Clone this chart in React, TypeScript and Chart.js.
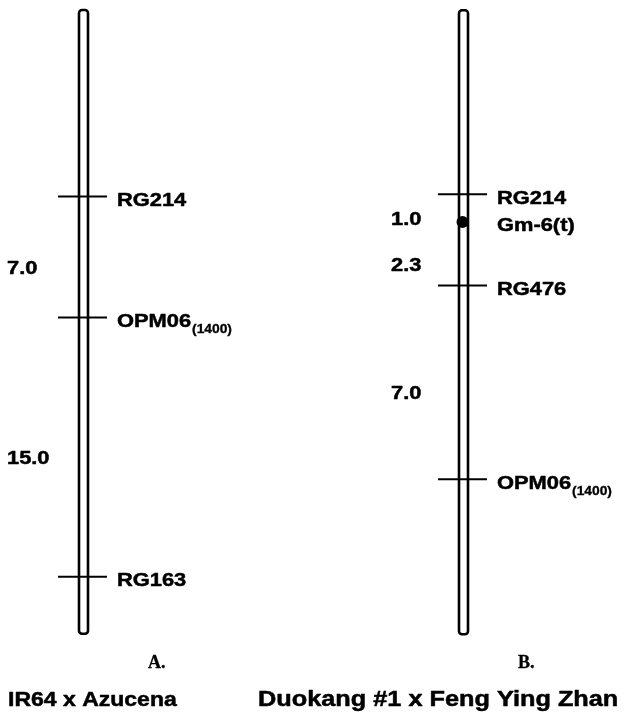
import React, { useEffect, useRef } from "react";
import { Chart, registerables } from "chart.js";

Chart.register(...registerables);

// ---- data (map positions in cM, relative to RG214) ----
const mapATitle = "A.";
const mapACross = "IR64 x Azucena";
const mapAMarkers = ["RG214", "OPM06", "RG163"];
const mapASubs = ["", "(1400)", ""];
const mapAPositions = [0, 7.0, 22.0];
const mapAIntervals = ["7.0", "15.0"];
const mapAEnds = [-10.8, 25.3];

const mapBTitle = "B.";
const mapBCross = "Duokang #1 x Feng Ying Zhan";
const mapBMarkers = ["RG214", "RG476", "OPM06"];
const mapBSubs = ["", "", "(1400)"];
const mapBPositions = [0, 3.3, 10.3];
const mapBGene = ["Gm-6(t)"];
const mapBGenePositions = [1.0];
const mapBIntervals = ["1.0", "2.3", "7.0"];
const mapBEnds = [-6.65, 15.9];

// ---- layout constants ----
const W = 630;
const H = 717;
const XA = 83.5;
const XB = 463.5;
const TICK_HALF = 24.5;
const BAR_W = 9;
const SANS = '"Liberation Sans", Arial, sans-serif';
const SERIF = '"Liberation Serif", "Times New Roman", serif';
const STRETCH = 1.15;

function drawText(
  ctx: CanvasRenderingContext2D,
  text: string,
  x: number,
  y: number,
  font: string,
  stretch = STRETCH,
  thicken = 0.5
): number {
  ctx.save();
  ctx.font = font;
  ctx.textAlign = "left";
  ctx.textBaseline = "alphabetic";
  ctx.translate(x, y);
  ctx.scale(stretch, 1);
  ctx.fillStyle = "#000";
  ctx.fillText(text, 0, 0);
  if (thicken > 0) {
    ctx.strokeStyle = "#000";
    ctx.lineWidth = thicken;
    ctx.lineJoin = "round";
    ctx.strokeText(text, 0, 0);
  }
  const w = ctx.measureText(text).width * stretch;
  ctx.restore();
  return w;
}

const mapPlugin = {
  id: "linkageMap",
  beforeDatasetsDraw(chart: any) {
    const ctx: CanvasRenderingContext2D = chart.ctx;
    const xs = chart.scales.x;
    const maps = [
      { x: XA, ends: mapAEnds, scale: chart.scales.yA },
      { x: XB, ends: mapBEnds, scale: chart.scales.yB },
    ];
    ctx.save();
    for (const m of maps) {
      const cx = xs.getPixelForValue(m.x);
      const top = m.scale.getPixelForValue(m.ends[0]);
      const bot = m.scale.getPixelForValue(m.ends[1]);
      ctx.beginPath();
      (ctx as any).roundRect(cx - BAR_W / 2, top, BAR_W, bot - top, 3);
      ctx.fillStyle = "#fff";
      ctx.fill();
      ctx.lineWidth = 2.6;
      ctx.strokeStyle = "#000";
      ctx.stroke();
    }
    ctx.restore();
  },
  afterDatasetsDraw(chart: any) {
    const ctx: CanvasRenderingContext2D = chart.ctx;
    const xs = chart.scales.x;
    const yA = chart.scales.yA;
    const yB = chart.scales.yB;
    ctx.save();
    const main = `bold 19px ${SANS}`;
    const sub = `bold 12px ${SANS}`;

    const labelMarkers = (
      names: string[],
      subs: string[],
      pos: number[],
      scale: any,
      cx: number
    ) => {
      const lx = xs.getPixelForValue(cx) + TICK_HALF + 9;
      names.forEach((n, i) => {
        const py = scale.getPixelForValue(pos[i]) + 9.5;
        const w = drawText(ctx, n, lx, py, main);
        if (subs[i]) drawText(ctx, subs[i], lx + w + 1, py + 6, sub, STRETCH, 0.3);
      });
    };
    labelMarkers(mapAMarkers, mapASubs, mapAPositions, yA, XA);
    labelMarkers(mapBMarkers, mapBSubs, mapBPositions, yB, XB);
    mapBGene.forEach((g, i) => {
      const py = yB.getPixelForValue(mapBGenePositions[i]) + 9.5;
      drawText(ctx, g, xs.getPixelForValue(XB) + TICK_HALF + 9, py, main);
    });

    const labelIntervals = (
      vals: string[],
      pos: number[],
      scale: any,
      lx: number
    ) => {
      vals.forEach((v, i) => {
        const mid = (scale.getPixelForValue(pos[i]) + scale.getPixelForValue(pos[i + 1])) / 2;
        drawText(ctx, v, lx, mid + 17, main);
      });
    };
    labelIntervals(mapAIntervals, mapAPositions, yA, 7);
    const bPos = [...mapBPositions.slice(0, 1), ...mapBGenePositions, ...mapBPositions.slice(1)];
    labelIntervals(mapBIntervals, bPos, yB, 391);

    drawText(ctx, mapATitle, 148, 668, `bold 18px ${SERIF}`, 1, 0.3);
    drawText(ctx, mapBTitle, 518, 668, `bold 18px ${SERIF}`, 1, 0.3);
    drawText(ctx, mapACross, 8, 706, `bold 20px ${SANS}`);
    drawText(ctx, mapBCross, 258, 706, `bold 22px ${SANS}`);
    ctx.restore();
  },
};

export default function App() {
  const ref = useRef<HTMLCanvasElement | null>(null);
  useEffect(() => {
    if (!ref.current) return;
    const tickStyle = {
      pointStyle: "line" as const,
      pointRadius: TICK_HALF,
      pointBorderWidth: 2,
      pointBorderColor: "#000",
      showLine: false,
    };
    const chart = new Chart(ref.current, {
      type: "scatter",
      data: {
        datasets: [
          {
            label: "Map A markers",
            data: mapAPositions.map((y) => ({ x: XA - 1, y })),
            yAxisID: "yA",
            ...tickStyle,
          },
          {
            label: "Map B markers",
            data: mapBPositions.map((y) => ({ x: XB - 1, y })),
            yAxisID: "yB",
            ...tickStyle,
          },
          {
            label: "Gene",
            data: mapBGenePositions.map((y) => ({ x: XB - 1, y })),
            yAxisID: "yB",
            pointStyle: "circle",
            pointRadius: 6,
            pointBackgroundColor: "#000",
            pointBorderColor: "#000",
            pointBorderWidth: 0,
            showLine: false,
          },
        ],
      },
      options: {
        animation: false,
        responsive: false,
        events: [],
        layout: { padding: 0, autoPadding: false },
        plugins: { legend: { display: false }, tooltip: { enabled: false } },
        scales: {
          x: { type: "linear", min: 0, max: W, display: false },
          yA: { type: "linear", reverse: true, min: -11.377, max: 30.116, display: false },
          yB: { type: "linear", reverse: true, min: -7.022, max: 18.891, display: false },
        },
      },
      plugins: [mapPlugin],
    });
    return () => chart.destroy();
  }, []);
  return (
    <div style={{ position: "fixed", left: 0, top: 0, width: W, height: H, background: "#fff" }}>
      <canvas ref={ref} width={W} height={H} style={{ display: "block" }} />
    </div>
  );
}
